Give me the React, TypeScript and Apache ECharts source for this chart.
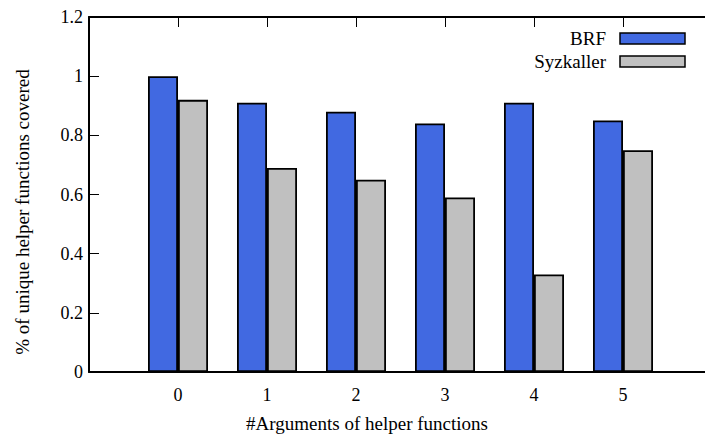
import React, { useEffect, useRef } from "react";
import * as echarts from "echarts";

const categories = ["0", "1", "2", "3", "4", "5"];
const seriesNames = ["BRF", "Syzkaller"];
const brfValues = [1.0, 0.91, 0.88, 0.84, 0.91, 0.85];
const syzValues = [0.92, 0.69, 0.65, 0.59, 0.33, 0.75];
const seriesColors = ["#4169E1", "#C0C0C0"];
const xTitle = "#Arguments of helper functions";
const yTitle = "% of unique helper functions covered";

const FONT = "Liberation Serif, Times New Roman, serif";

export default function App() {
  const ref = useRef<HTMLDivElement>(null);
  useEffect(() => {
    if (!ref.current) return;
    const chart = echarts.init(ref.current, undefined, { renderer: "svg" });
    const xLabelFmt = (v: number) => {
      const i = Math.round(v);
      return i >= 0 && i < categories.length && Math.abs(v - i) < 1e-6 ? categories[i] : "";
    };
    const allValues = [brfValues, syzValues];
    chart.setOption({
      animation: false,
      backgroundColor: "#ffffff",
      textStyle: { fontFamily: FONT },
      grid: {
        left: 89,
        top: 17,
        width: 623,
        height: 355,
        containLabel: false,
        outerBoundsMode: "none",
      },
      xAxis: [
        {
          type: "value",
          min: -1,
          max: 6,
          interval: 1,
          position: "bottom",
          splitLine: { show: false },
          axisLine: { show: true, onZero: false, lineStyle: { color: "#000", width: 2 } },
          axisTick: { show: true, inside: true, length: 10, lineStyle: { color: "#000", width: 1 } },
          axisLabel: {
            formatter: xLabelFmt,
            fontFamily: FONT,
            fontSize: 18,
            color: "#000",
            margin: 14,
          },
        },
        {
          type: "value",
          min: -1,
          max: 6,
          interval: 1,
          position: "top",
          splitLine: { show: false },
          axisLine: { show: true, onZero: false, lineStyle: { color: "#000", width: 2 } },
          axisTick: { show: true, inside: true, length: 10, lineStyle: { color: "#000", width: 1 } },
          axisLabel: { show: false },
        },
      ],
      yAxis: {
        type: "value",
        min: 0,
        max: 1.2,
        interval: 0.2,
        position: "left",
        splitLine: { show: false },
        axisLine: { show: true, onZero: false, lineStyle: { color: "#000", width: 2 } },
        axisTick: { show: true, inside: true, length: 10, lineStyle: { color: "#000", width: 1 } },
        axisLabel: {
          formatter: (v: number) => String(+v.toFixed(1)),
          fontFamily: FONT,
          fontSize: 18,
          color: "#000",
          margin: 6,
        },
      },
      series: seriesNames.map((name, s) => ({
        name,
        type: "bar",
        xAxisIndex: 0,
        barWidth: 30,
        barGap: "0%",
        data: allValues[s].map((v, i) => [i, v]),
        itemStyle: { color: seriesColors[s], borderColor: "#000", borderWidth: 1.8 },
      })),
      graphic: [
        {
          type: "text",
          x: 367,
          y: 423,
          style: {
            text: xTitle,
            fontFamily: FONT,
            fontSize: 19,
            fill: "#000",
            align: "center",
            verticalAlign: "middle",
          },
        },
        {
          type: "text",
          x: 22,
          y: 212,
          rotation: Math.PI / 2,
          style: {
            text: yTitle,
            fontFamily: FONT,
            fontSize: 19,
            fill: "#000",
            align: "center",
            verticalAlign: "middle",
          },
        },
        ...seriesNames.flatMap((name, s) => [
          {
            type: "text",
            x: 606,
            y: 38.5 + s * 23,
            style: {
              text: name,
              fontFamily: FONT,
              fontSize: 19,
              fill: "#000",
              align: "right",
              verticalAlign: "middle",
            },
          },
          {
            type: "rect",
            shape: { x: 620, y: 33 + s * 23, width: 65, height: 11 },
            style: { fill: seriesColors[s], stroke: "#000", lineWidth: 1.5 },
          },
        ]),
      ],
    });
    return () => chart.dispose();
  }, []);
  return (
    <div
      ref={ref}
      style={{ position: "fixed", left: 0, top: 0, width: 705, height: 435 }}
    />
  );
}
